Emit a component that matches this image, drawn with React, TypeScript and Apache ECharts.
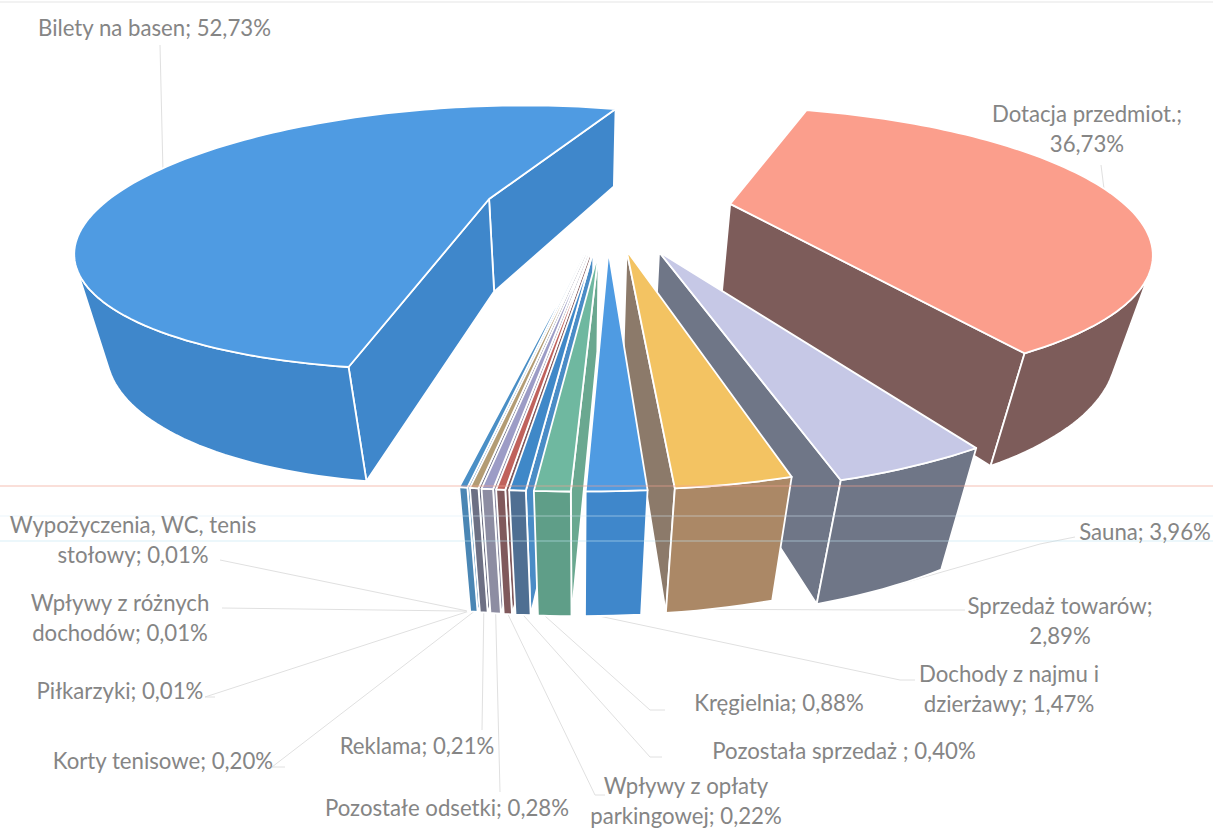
import React, { useEffect, useRef } from "react";
import * as echarts from "echarts";

const categories = [
  "Bilety na basen", "Dotacja przedmiot.", "Sauna", "Sprzedaż towarów", "Dochody z najmu i dzierżawy",
  "Kręgielnia", "Pozostała sprzedaż ", "Wpływy z opłaty parkingowej", "Pozostałe odsetki", "Reklama",
  "Korty tenisowe", "Piłkarzyki", "Wpływy z różnych dochodów", "Wypożyczenia, WC, tenis stołowy",
];
const values = [52.73, 36.73, 3.96, 2.89, 1.47, 0.88, 0.4, 0.22, 0.28, 0.21, 0.2, 0.01, 0.01, 0.01];

const topColors = ["#4f9be2", "#fb9e8c", "#c6c8e6", "#f3c362", "#4f9be2", "#6fb8a0", "#3f88c8", "#c0625c", "#9c9cc6", "#b39c74", "#4a8fc6", "#8f9fb0", "#8f9fb0", "#4a8fc6"];
const wallColors = ["#3f87cb", "#7d5c5a", "#6f7687", "#ab8866", "#3f87cb", "#5f9e88", "#4f6f92", "#80595c", "#8d8da2", "#6d7084", "#4a86b4", "#7f8fa0", "#7f8fa0", "#4a86b4"];
const sideColors = ["#3f87cb", "#7d5c5a", "#6f7687", "#8c7a6a", "#3f87cb", "#6aa890", "#4a8cc6", "#80595c", "#8d8da2", "#6d7084", "#4a86b4", "#7f8fa0", "#7f8fa0", "#4a86b4"];

const labelBreaks = [
  "Bilety na basen; 52,73%", "Dotacja przedmiot.;\n36,73%", "Sauna; 3,96%", "Sprzedaż towarów;\n2,89%",
  "Dochody z najmu i\ndzierżawy; 1,47%", "Kręgielnia; 0,88%", "Pozostała sprzedaż ; 0,40%", "Wpływy z opłaty\nparkingowej; 0,22%",
  "Pozostałe odsetki; 0,28%", "Reklama; 0,21%", "Korty tenisowe; 0,20%", "Piłkarzyki; 0,01%",
  "Wpływy z różnych\ndochodów; 0,01%", "Wypożyczenia, WC, tenis\nstołowy; 0,01%",
];
const labelCentres = [
  [154.5, 27], [1087, 128], [1145, 531], [1060, 620], [1009, 688], [779, 702], [844, 750],
  [686, 800], [447, 807], [417, 745], [163, 760], [120, 690], [120, 617], [133, 539],
];
const leaderStarts = [
  [[160, 45]], [[1101, 165]], [[1075, 537], [1040, 544]], [[965, 610], [880, 610]], [[915, 680], [900, 680]],
  [[665, 710], [650, 710]], [[662, 757], [650, 757]], [[605, 795], [595, 795]], [[500, 792]], [[482, 730]],
  [[285, 767], [272, 767]], [[215, 697], [205, 697]], [[222, 608]], [[220, 560]],
];
const leaderFrac = [0.515, 0.49, 0.55, 0.6, 0.75, 0.8, 0.5, 0.5, 0.5, 0.5, 0.5, 0.5, 0.5, 0.5];
const leaderRim = [0, 0, 1, 1, 1, 1, 1, 1, 1, 1, 1, 1, 1, 1];
const drawOrder = [0, 1, 2, 3, 13, 12, 11, 10, 9, 8, 7, 6, 5, 4];
const explodes = [0.31, 0.31, 0.33, 0.3, 0.3, 0.3, 0.3, 0.3, 0.3, 0.3, 0.3, 0.3, 0.3, 0.3];
const radii = [0.965, 0.99, 1, 1, 1, 1, 1, 1, 1, 1, 1, 1, 1, 1];

const START_DEG = 188.2;
const cam = { xc: 607, xv: 648, yh: -215.5, k: 423.5, b: 0.3085, f: 402, vx: 578, vy: 1830, h: 0.0615 };

const total = values.reduce((a, b) => a + b, 0);
const spans: [number, number][] = [];
{
  let a = START_DEG;
  values.forEach((v) => {
    const d = (v / total) * 360;
    spans.push([a, a + d]);
    a += d;
  });
}
const rad = (d: number) => (d * Math.PI) / 180;
function project(X: number, Y: number, Z: number): [number, number] {
  const w = 1 + cam.b * Y;
  const pw = w + Z * cam.h;
  return [
    (cam.xv * w + cam.xc - cam.xv + cam.f * X + Z * cam.h * cam.vx) / pw,
    (cam.yh * w + cam.k + Z * cam.h * cam.vy) / pw,
  ];
}
function apexOf(i: number) {
  const m = rad((spans[i][0] + spans[i][1]) / 2);
  return [explodes[i] * Math.sin(m), explodes[i] * Math.cos(m)];
}
function rimPoint(i: number, deg: number, Z: number) {
  const [ax, ay] = apexOf(i);
  return project(ax + radii[i] * Math.sin(rad(deg)), ay + radii[i] * Math.cos(rad(deg)), Z);
}
function area(p: number[][]) {
  let s = 0;
  p.forEach((q, j) => {
    const n = p[(j + 1) % p.length];
    s += q[0] * n[1] - n[0] * q[1];
  });
  return s / 2;
}
function sliceChildren(i: number) {
  const [s, e] = spans[i];
  const [ax, ay] = apexOf(i);
  const apexT = project(ax, ay, 0);
  const apexB = project(ax, ay, 1);
  const n = Math.max(2, Math.ceil((e - s) / 1.5));
  const degs = Array.from({ length: n + 1 }, (_, j) => s + ((e - s) * j) / n);
  const tops = degs.map((d) => rimPoint(i, d, 0));
  const bots = degs.map((d) => rimPoint(i, d, 1));
  const style = (fill: string) => ({ fill, stroke: "#ffffff", lineWidth: 1.8, lineJoin: "round" });
  const kids: any[] = [];
  const poly = (pts: number[][], fill: string) => kids.push({ type: "polygon", shape: { points: pts }, style: style(fill) });
  const endWall = [tops[n], apexT, apexB, bots[n]];
  if (area(endWall) < 0) poly(endWall, sideColors[i]);
  const startWall = [apexT, tops[0], bots[0], apexB];
  if (area(startWall) < 0) poly(startWall, sideColors[i]);
  let run: number[] = [];
  const flush = () => {
    if (run.length > 1) {
      const t = run.map((j) => tops[j]);
      const b = run.map((j) => bots[j]).reverse();
      poly([...t, ...b], wallColors[i]);
    }
    run = [];
  };
  for (let j = 0; j < n; j++) {
    const q = [tops[j], tops[j + 1], bots[j + 1], bots[j]];
    if (area(q) < 0) {
      if (!run.length) run.push(j);
      run.push(j + 1);
    } else flush();
  }
  flush();
  poly([apexT, ...tops], topColors[i]);
  return kids;
}

export default function App() {
  const ref = useRef<HTMLDivElement>(null);
  useEffect(() => {
    const chart = echarts.init(ref.current!, undefined, { renderer: "svg" });
    const seriesData = values.map((v, i) => ({ name: categories[i], value: [i, v] }));
    chart.setOption({
      animation: false,
      backgroundColor: "#ffffff",
      graphic: [
        ...labelBreaks.map((t, i) => ({
          type: "text",
          z: 20,
          style: {
            text: t,
            x: labelCentres[i][0],
            y: labelCentres[i][1],
            align: "center",
            verticalAlign: "middle",
            fill: "#858585",
            font: "22.2px Lato",
            lineHeight: 30,
          },
        })),
        ...[
          [2, "#dddddd", 0.5],
          [486, "#f2a090", 0.45],
          [516, "#d8ecf5", 0.35],
          [541, "#c0e4f2", 0.4],
        ].map(([y, c, o]) => ({
          type: "line",
          z: 15,
          shape: { x1: 0, y1: y, x2: 1213, y2: y },
          style: { stroke: c, opacity: o, lineWidth: 1.5 },
        })),
      ],
      series: [
        {
          type: "custom",
          coordinateSystem: "none",
          z: 1,
          silent: true,
          data: seriesData,
          renderItem: (_p: any, api: any) => {
            const i = api.value(0);
            const d = spans[i][0] + (spans[i][1] - spans[i][0]) * leaderFrac[i];
            const end = rimPoint(i, d, leaderRim[i]);
            return {
              type: "polyline",
              shape: { points: [...leaderStarts[i], end] },
              style: { stroke: "#e0e0e0", lineWidth: 1, fill: "none" },
            };
          },
        },
        {
          type: "custom",
          coordinateSystem: "none",
          z: 2,
          silent: true,
          data: drawOrder.map((i) => seriesData[i]),
          renderItem: (_p: any, api: any) => ({ type: "group", children: sliceChildren(api.value(0)) }),
        },
      ],
    });
    return () => chart.dispose();
  }, []);
  return <div ref={ref} style={{ position: "absolute", left: 0, top: 0, width: 1213, height: 828 }} />;
}
